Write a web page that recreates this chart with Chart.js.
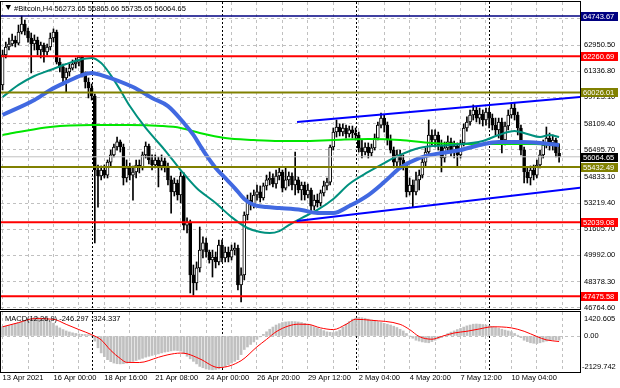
<!DOCTYPE html>
<html>
<head>
<meta charset="utf-8">
<script src="https://cdn.jsdelivr.net/npm/chart.js@4.4.1/dist/chart.umd.min.js"></script>
<style>
  html, body { margin: 0; padding: 0; background: #fff; }
  #wrap { position: relative; width: 620px; height: 388px; overflow: hidden; }
  #main { position: absolute; left: 0; top: 0; }
  #macd { position: absolute; left: 0; top: 310px; }
</style>
</head>
<body>
<div id="wrap">
  <canvas id="main" width="620" height="310"></canvas>
  <canvas id="macd" width="620" height="78"></canvas>
</div>
<script>
// time axis: one unit = one H4 bar
const xLabels = ['13 Apr 2021', '16 Apr 00:00', '18 Apr 16:00', '21 Apr 08:00', '24 Apr 00:00', '26 Apr 20:00',
  '29 Apr 12:00', '2 May 04:00', '4 May 20:00', '7 May 12:00', '10 May 04:00'];
const gridIdx = [0, 8, 16, 24, 32, 40, 48, 56, 64, 72, 80, 88, 96, 104, 112, 120, 128, 136, 144, 152, 160, 168, 176];
const sepIdx = [28, 69, 111, 153];
const xRange = [-0.5, 181.57];

// price axis
const priceTicks = [64564.20, 62950.50, 61336.80, 59723.10, 58109.40, 56495.70, 54833.10, 53219.40,
  51605.70, 49992.00, 48378.30, 46764.60];
const priceRange = [46691, 65599];

// candles
const opens = [
  60490, 62340, 62830, 63010, 63260, 63070, 63750, 64240, 63810, 63380,
  63010, 63260, 62640, 62950, 62520, 62830, 63380, 63750, 61900, 61600,
  60920, 61290, 61530, 61780, 61900, 62210, 61100, 60670, 60300, 59810,
  55250, 54880, 55250, 54940, 55740, 56180, 56670, 56980, 56670, 54760,
  55380, 54940, 55130, 55560, 55380, 56180, 56730, 55870, 55560, 55870,
  55500, 55810, 55500, 54640, 53900, 54450, 53710, 54880, 51860, 52050,
  48790, 48290, 49220, 50320, 50760, 50200, 49710, 49890, 49590, 50630,
  49830, 50200, 49890, 50320, 50450, 48170, 48790, 52480, 53400, 53100,
  53710, 53900, 53530, 54270, 54640, 54760, 54390, 54880, 55130, 54140,
  54640, 54880, 54330, 54640, 54020, 54330, 53710, 54020, 53030, 53400,
  53220, 53840, 54270, 54510, 56670, 57590, 57900, 57590, 57840, 57470,
  57720, 57530, 57410, 56610, 56360, 56670, 56300, 56610, 57220, 58020,
  58450, 58020, 57100, 56480, 55740, 56180, 55870, 55560, 53900, 54330,
  53900, 54640, 54940, 55740, 56360, 57410, 57100, 57410, 56790, 55990,
  56610, 56980, 56360, 56730, 56180, 56920, 57840, 58210, 58640, 58950,
  58450, 58700, 58330, 58820, 58450, 58020, 57720, 58210, 57100, 57960,
  58640, 59070, 58640, 57840, 56480, 55130, 54760, 55250, 54940, 55560,
  56180, 56790, 57220, 56920, 57100, 56273.65
];
const highs = [
  62640, 63130, 63380, 63630, 63500, 64180, 64740, 64490, 64000, 63690,
  63570, 63440, 63130, 63070, 63010, 63690, 63940, 63870, 62150, 61780,
  61530, 61780, 62030, 62150, 62270, 62270, 61290, 60920, 60550, 59930,
  55560, 55500, 55560, 55870, 56480, 56850, 57280, 57100, 56850, 55870,
  55680, 55500, 55870, 55870, 56360, 56980, 56850, 56180, 56180, 56050,
  56180, 55990, 55680, 54880, 54760, 54640, 55130, 55070, 52300, 52170,
  49400, 49590, 51740, 51130, 51060, 50320, 50320, 50200, 50940, 50940,
  50510, 50510, 50630, 50760, 50630, 49220, 52670, 53710, 53840, 54020,
  54330, 54270, 54450, 54940, 55130, 55010, 55250, 55440, 55250, 55440,
  55130, 55070, 56360, 54820, 54510, 54510, 54390, 54140, 53710, 53770,
  54020, 54570, 54760, 56790, 57840, 58330, 58090, 58090, 58020, 57960,
  57960, 57840, 57590, 57100, 56920, 56920, 56850, 57470, 58210, 58760,
  58640, 58210, 57410, 56670, 56480, 56480, 56180, 55740, 54760, 54640,
  55130, 55250, 55990, 56610, 58330, 57720, 57720, 57590, 57100, 56980,
  57350, 57220, 57040, 56920, 57100, 58090, 58520, 58950, 59260, 59130,
  59070, 58950, 59070, 59070, 58700, 58450, 58450, 58450, 58210, 58950,
  59380, 59380, 58820, 58020, 56670, 55380, 55500, 55560, 55870, 56480,
  57100, 57900, 57530, 57410, 57220, 56865.66
];
const lows = [
  60180, 62150, 62640, 62890, 62830, 62950, 63630, 63570, 63130, 61230,
  62640, 62340, 62150, 61900, 62340, 62640, 63130, 61780, 61290, 60490,
  60060, 61040, 61410, 61530, 61660, 60980, 60300, 59690, 59560, 50760,
  52970, 54640, 54760, 54760, 55500, 56050, 56480, 56360, 54330, 54510,
  54640, 53400, 54760, 55070, 55250, 55990, 55620, 55250, 55380, 54210,
  55250, 55130, 54330, 52600, 53650, 53400, 53220, 51560, 51370, 47680,
  47550, 47860, 48970, 49830, 49890, 49520, 48660, 49220, 49400, 49590,
  49590, 49590, 49710, 50020, 47860, 47120, 48480, 52170, 52790, 52910,
  53400, 53280, 53400, 54020, 54330, 54210, 54140, 54640, 53900, 54020,
  54270, 54020, 53710, 53840, 53400, 53400, 53530, 52670, 52790, 52970,
  53030, 53650, 54020, 54330, 56480, 57280, 57350, 57350, 57220, 57280,
  57220, 57100, 56360, 55990, 56180, 55990, 56110, 56480, 57100, 57840,
  57590, 56790, 56300, 55380, 55500, 55380, 55250, 53590, 53710, 52970,
  53710, 54020, 54760, 55500, 56180, 56790, 56670, 56480, 55130, 55740,
  56300, 56110, 55990, 55440, 55990, 56730, 57650, 58020, 58330, 58210,
  58090, 57960, 58020, 57840, 57720, 57410, 57220, 56300, 56790, 57720,
  58450, 58330, 57410, 56180, 54450, 54450, 54330, 54640, 54760, 55380,
  55990, 56610, 56480, 56480, 56050, 55735.65
];
const closes = [
  62340, 62830, 63010, 63260, 63070, 63750, 64240, 63810, 63380, 63010,
  63260, 62640, 62950, 62520, 62830, 63380, 63750, 61900, 61600, 60920,
  61290, 61530, 61780, 61900, 62210, 61100, 60670, 60300, 59810, 55250,
  54880, 55250, 54940, 55740, 56180, 56670, 56980, 56670, 54760, 55380,
  54940, 55130, 55560, 55380, 56180, 56730, 55870, 55560, 55870, 55500,
  55810, 55500, 54640, 53900, 54450, 53710, 54880, 51860, 52050, 48790,
  48290, 49220, 50320, 50760, 50200, 49710, 49890, 49590, 50630, 49830,
  50200, 49890, 50320, 50450, 48170, 48790, 52480, 53400, 53100, 53710,
  53900, 53530, 54270, 54640, 54760, 54390, 54880, 55130, 54140, 54640,
  54880, 54330, 54640, 54020, 54330, 53710, 54020, 53030, 53400, 53220,
  53840, 54270, 54510, 56670, 57590, 57900, 57590, 57840, 57470, 57720,
  57530, 57410, 56610, 56360, 56670, 56300, 56610, 57220, 58020, 58450,
  58020, 57100, 56480, 55740, 56180, 55870, 55560, 53900, 54330, 53900,
  54640, 54940, 55740, 56360, 57410, 57100, 57410, 56790, 55990, 56610,
  56980, 56360, 56730, 56180, 56920, 57840, 58210, 58640, 58950, 58450,
  58700, 58330, 58820, 58450, 58020, 57720, 58210, 57100, 57960, 58640,
  59070, 58640, 57840, 56480, 55130, 54760, 55250, 54940, 55560, 56180,
  56790, 57220, 56920, 57100, 56300, 56064.65
];

// moving averages, read at sample bars
const blueIdx = [0, 10, 15, 20, 25, 28, 31, 41, 47, 52, 57, 60, 62, 64, 67, 70, 73, 76, 79, 83,
  87, 94, 99, 104, 109, 115, 120, 125, 131, 138, 144, 150, 156, 163, 169, 175];
const blueVal = [58640, 59560, 60180, 60670, 61100, 61230, 61100, 60360, 59690, 59190,
  58150, 57410, 56790, 56180, 55380, 54760, 54140, 53470, 53100, 52970,
  52910, 52790, 52600, 52600, 53030, 53710, 54510, 55380, 55990, 56300,
  56480, 56790, 56980, 56980, 56920, 56790];
const tealIdx = [0, 5, 10, 15, 20, 24, 28, 31, 34, 37, 40, 45, 51, 56, 61, 67, 72, 77, 81, 84,
  87, 90, 94, 99, 104, 109, 115, 120, 125, 131, 141, 151, 156, 161, 165, 169, 172, 175];
const tealVal = [59750, 60490, 61040, 61410, 61780, 62030, 62150, 61840, 61100, 60180,
  59190, 57840, 56480, 55250, 54140, 53220, 52350, 51680, 51430, 51370,
  51490, 51860, 52290, 52790, 53470, 54390, 55130, 55680, 56180, 56610,
  56790, 57040, 57410, 57650, 57470, 57280, 57410, 57280];
const greenIdx = [0, 5, 15, 28, 40, 50, 56, 62, 70, 79, 87, 94, 104, 115, 125, 135, 146, 156, 167, 175];
const greenVal = [57410, 57590, 57900, 58020, 58020, 57960, 57840, 57530, 57220, 57100,
  57040, 57040, 57100, 57160, 57100, 56910, 56850, 56850, 56850, 56790];

// drawn levels and channel
const levels = [64743.67, 62260.69, 60026.01, 55432.49, 52039.08, 47475.58];
const levelColors = ['#000080', '#ff0000', '#808000', '#808000', '#ff0000', '#ff0000'];
const upperTrend = [[92.6, 58210], [181.6, 59750]];
const lowerTrend = [[92.5, 52110], [181.6, 54160]];

// MACD(12,26,9)
const macdHist = [
  550, 580, 620, 680, 740, 800, 860, 920, 980, 1040,
  1100, 1100, 1080, 1040, 980, 900, 760, 600, 480, 380,
  300, 240, 190, 150, 120, 100, 90, 80, 40, -300,
  -700, -1000, -1220, -1400, -1520, -1600, -1640, -1650, -1640, -1600,
  -1550, -1500, -1450, -1380, -1320, -1250, -1200, -1150, -1100, -1060,
  -1000, -950, -920, -880, -850, -860, -900, -1050, -1200, -1350,
  -1500, -1650, -1800, -1880, -1950, -1980, -2000, -1980, -1950, -1880,
  -1800, -1700, -1600, -1500, -1400, -1100, -800, -650, -500, -350,
  -200, -50, 100, 250, 400, 530, 650, 730, 800, 830,
  850, 860, 850, 830, 800, 750, 700, 620, 550, 480,
  400, 320, 250, 220, 200, 260, 350, 520, 700, 850,
  1000, 1060, 1100, 1080, 1050, 1000, 950, 900, 850, 800,
  750, 700, 650, 580, 500, 400, 300, 150, 0, -130,
  -250, -300, -350, -380, -400, -330, -250, -170, -100, 20,
  150, 230, 300, 380, 450, 530, 600, 650, 700, 710,
  700, 680, 650, 600, 550, 500, 450, 400, 350, 300,
  250, 150, 50, -100, -250, -330, -400, -430, -450, -400,
  -350, -300, -250, -240, -230, -246.297
];
const sigIdx = [0, 5, 10, 16, 20, 24, 28, 31, 34, 37, 39, 43, 49, 52, 56, 58, 62, 68, 75, 80,
  83, 86, 90, 93, 96, 100, 104, 108, 111, 116, 125, 128, 131, 135, 138, 142, 146, 150, 154, 160,
  164, 168, 171, 175];
const sigVal = [545, 790, 1030, 990, 690, 380, 80, -230, -850, -1330, -1560, -1570, -1260, -1110, -1010, -1050, -1350, -1870, -1460, -640,
  -200, 250, 600, 700, 690, 480, 380, 690, 990, 930, 690, 380, -30, -190, -30, 180, 280, 420, 545, 480,
  280, -30, -230, -324.337];
const macdRange = [-2129.742, 1420.605];

const FONT = { family: '"Liberation Sans", Arial, sans-serif', size: 7.5 };
const FONT_CSS = '7.5px "Liberation Sans", Arial, sans-serif';
const last = closes.length - 1;

const pts = (idx, val) => idx.map((v, k) => ({ x: v, y: val[k] }));
const hline = v => [{ x: xRange[0], y: v }, { x: xRange[1], y: v }];
const lineDs = (data, color, width, order, extra) => Object.assign({
  type: 'line', data, borderColor: color, borderWidth: width, pointRadius: 0, fill: false, order
}, extra || {});

// shared decorations
function drawSeparators(chart) {
  const { ctx, chartArea: a, scales: { x } } = chart;
  ctx.save();
  ctx.strokeStyle = '#000';
  ctx.lineWidth = 1;
  ctx.setLineDash([2, 2]);
  sepIdx.forEach(i => {
    const px = Math.round(x.getPixelForValue(i)) + 0.5;
    ctx.beginPath(); ctx.moveTo(px, a.top); ctx.lineTo(px, a.bottom); ctx.stroke();
  });
  ctx.restore();
}
function drawFrame(chart) {
  const { ctx, chartArea: a } = chart;
  ctx.save();
  ctx.strokeStyle = '#000';
  ctx.lineWidth = 1;
  ctx.strokeRect(a.left - 0.5, a.top - 0.5, a.right - a.left + 1, a.bottom - a.top + 1);
  ctx.restore();
}
function tag(ctx, y, text, bg) {
  const yy = Math.round(y);
  ctx.fillStyle = bg;
  ctx.fillRect(581, yy - 4, 37, 9);
  ctx.fillStyle = '#fff';
  ctx.fillText(text, 583, yy + 0.5);
}
const noPad = s => { s.paddingTop = 0; s.paddingBottom = 0; s.paddingLeft = 0; s.paddingRight = 0; };

const xScale = (showLabels) => ({
  type: 'linear', min: xRange[0], max: xRange[1], offset: false,
  grid: { offset: false, color: '#c0c0c0', drawTicks: false },
  border: { display: false, dash: [3, 3] },
  ticks: {
    display: showLabels, autoSkip: false, maxRotation: 0, align: 'start', padding: 1,
    color: '#000', font: FONT,
    callback: v => (v % 16 === 0 ? (xLabels[v / 16] || '') : '')
  },
  afterBuildTicks: s => { s.ticks = gridIdx.map(v => ({ value: v })); },
  afterFit: s => { s.height = showLabels ? 16 : 0; noPad(s); }
});

// main price panel
new Chart(document.getElementById('main'), {
  type: 'bar',
  data: {
    datasets: [
      { data: closes.map((c, i) => ({ x: i, y: [lows[i], highs[i]] })), backgroundColor: '#000',
        barThickness: 1, grouped: false, order: 10 },
      { data: closes.map((c, i) => ({ x: i, y: [opens[i], c] })),
        backgroundColor: closes.map((c, i) => (c >= opens[i] ? '#ffffff' : '#000000')),
        borderColor: '#000', borderWidth: 1, borderSkipped: false,
        barThickness: 3, grouped: false, order: 9 },
      lineDs(pts(greenIdx, greenVal), '#00e600', 2, 6, { cubicInterpolationMode: 'monotone' }),
      lineDs(pts(tealIdx, tealVal), '#00907e', 2, 5, { cubicInterpolationMode: 'monotone' }),
      lineDs(pts(blueIdx, blueVal), '#4169e1', 4, 4, { cubicInterpolationMode: 'monotone' }),
      lineDs(hline(closes[last]), '#c0c0c0', 1, 3),
      ...levels.map((v, k) => lineDs(hline(v), levelColors[k], k === 0 ? 1.5 : 2, 2)),
      lineDs(upperTrend.map(p => ({ x: p[0], y: p[1] })), '#0000ff', 2, 1),
      lineDs(lowerTrend.map(p => ({ x: p[0], y: p[1] })), '#0000ff', 2, 1)
    ]
  },
  options: {
    responsive: false, animation: false, events: [],
    layout: { autoPadding: false, padding: { left: 1, top: 2, right: 0, bottom: 1 } },
    plugins: { legend: { display: false }, tooltip: { enabled: false } },
    scales: {
      x: xScale(false),
      y: {
        position: 'right', min: priceRange[0], max: priceRange[1],
        grid: { color: '#c0c0c0', drawTicks: false },
        border: { display: false, dash: [3, 3] },
        ticks: { color: '#000', font: FONT, padding: 4, callback: v => v.toFixed(2) },
        afterBuildTicks: s => { s.ticks = priceTicks.map(v => ({ value: v })); },
        afterFit: s => { s.width = 40; noPad(s); }
      }
    }
  },
  plugins: [{
    id: 'mainDeco',
    beforeDatasetsDraw: drawSeparators,
    afterDraw(chart) {
      const { ctx, scales: { y } } = chart;
      drawFrame(chart);
      ctx.save();
      ctx.font = FONT_CSS;
      ctx.textBaseline = 'middle';
      ctx.textAlign = 'left';
      levels.forEach((v, k) => tag(ctx, y.getPixelForValue(v), v.toFixed(2), levelColors[k]));
      tag(ctx, y.getPixelForValue(closes[last]), closes[last].toFixed(2), '#000');
      // symbol header
      ctx.fillStyle = '#000';
      ctx.beginPath(); ctx.moveTo(5.5, 5); ctx.lineTo(11, 5); ctx.lineTo(8.25, 10); ctx.closePath(); ctx.fill();
      const head = ['#Bitcoin,H4', opens[last], highs[last], lows[last], closes[last]]
        .map(v => (typeof v === 'number' ? v.toFixed(2) : v)).join(' ');
      ctx.fillText(head, 14, 8.5);
      ctx.restore();
    }
  }]
});

// MACD panel
new Chart(document.getElementById('macd'), {
  type: 'bar',
  data: {
    datasets: [
      { data: macdHist.map((v, i) => ({ x: i, y: v })), backgroundColor: '#c0c0c0',
        barThickness: 2, grouped: false, order: 2 },
      lineDs(pts(sigIdx, sigVal), '#ff0000', 1, 1, { cubicInterpolationMode: 'monotone' })
    ]
  },
  options: {
    responsive: false, animation: false, events: [],
    layout: { autoPadding: false, padding: { left: 1, top: 2, right: 0, bottom: 0 } },
    plugins: { legend: { display: false }, tooltip: { enabled: false } },
    scales: {
      x: xScale(true),
      y: {
        position: 'right', min: macdRange[0], max: macdRange[1],
        grid: { color: '#c0c0c0', drawTicks: false },
        border: { display: false, dash: [3, 3] },
        ticks: { color: '#000', font: FONT, padding: 4, callback: () => '0.00' },
        afterBuildTicks: s => { s.ticks = [{ value: 0 }]; },
        afterFit: s => { s.width = 40; noPad(s); }
      }
    }
  },
  plugins: [{
    id: 'macdDeco',
    beforeDatasetsDraw: drawSeparators,
    afterDraw(chart) {
      const { ctx, chartArea: a } = chart;
      drawFrame(chart);
      ctx.save();
      ctx.font = FONT_CSS;
      ctx.textBaseline = 'middle';
      ctx.fillStyle = '#000';
      ctx.fillText('MACD(12,26,9) ' + macdHist[last].toFixed(3) + ' ' + sigVal[sigVal.length - 1].toFixed(3), 5, a.top + 7);
      ctx.fillText(macdRange[1].toFixed(3), 584, a.top + 7);
      ctx.fillText(macdRange[0].toFixed(3), 582, a.bottom - 5);
      ctx.restore();
    }
  }]
});
</script>
</body>
</html>
